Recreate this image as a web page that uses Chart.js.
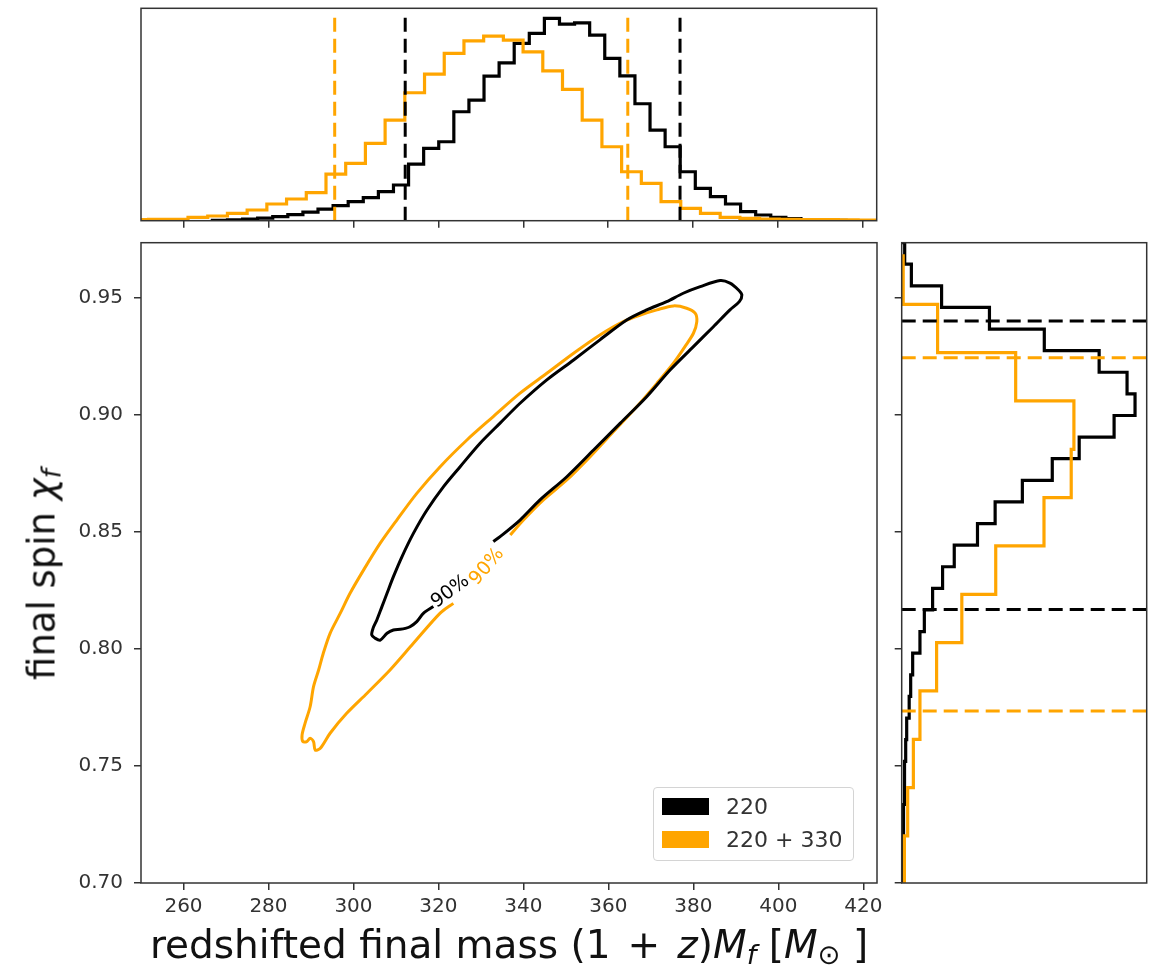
<!DOCTYPE html>
<html><head><meta charset="utf-8">
<script src="https://cdn.jsdelivr.net/npm/chart.js@4.4.1/dist/chart.umd.min.js"></script>
<style>
html,body{margin:0;padding:0;background:#fff;}
#wrap{position:relative;width:1165px;height:971px;overflow:hidden;background:#fff;font-family:'DejaVu Sans',sans-serif;}
.pane{position:absolute;}
#xlabel{position:absolute;left:141px;width:736px;top:925px;text-align:center;font-size:39px;line-height:39px;color:#111;white-space:nowrap;}
#ylabel{position:absolute;left:-278px;width:640px;top:556px;text-align:center;font-size:37px;line-height:37px;color:#111;white-space:nowrap;transform:rotate(-90deg);transform-origin:50% 50%;}
sub{font-size:0.7em;vertical-align:-0.22em;line-height:0;}
.op{margin:0 0.12em;}
#legend{position:absolute;left:653px;top:787px;width:199px;height:72px;border:1px solid #d4d4d4;border-radius:4px;background:rgba(255,255,255,0.85);}
.lrow{position:absolute;left:8px;height:17px;}
.lsw{position:absolute;left:0;top:0;width:47px;height:17px;}
.ltx{position:absolute;left:64px;top:-4px;font-size:22px;line-height:25px;color:#333;white-space:nowrap;}
</style></head>
<body>
<div id="wrap">
  <div class="pane" style="left:100px;top:0;width:790px;height:236px"><canvas id="cTop"></canvas></div>
  <div class="pane" style="left:0;top:236px;width:884px;height:735px"><canvas id="cMain"></canvas></div>
  <div class="pane" style="left:884px;top:236px;width:281px;height:660px"><canvas id="cRight"></canvas></div>
  <div id="xlabel">redshifted final mass (1<span class="op"> + </span><i>z</i>)<i>M</i><sub><i>f</i></sub> [<i>M</i><sub>⊙</sub> ]</div>
  <div id="ylabel">final spin <i>χ</i><sub><i>f</i></sub></div>
  <div id="legend"></div>
</div>
<script>
// ---------------- DATA ----------------
const seriesNames = ['220', '220 + 330'];
const xTicks = [260, 280, 300, 320, 340, 360, 380, 400, 420];
const yTicks = [0.70, 0.75, 0.80, 0.85, 0.90, 0.95];
const massRange = [250, 423.2];
const spinRange = [0.70, 0.9736];

// 90% credible contours (open paths, gap where the label sits): mass, spin
const contourMass220 = [318.8,316.5,314.9,313.3,312.2,311.0,309.4,307.9,306.3,305.1,304.3,304.6,305.5,306.7,307.9,309.4,311.4,314.1,317.3,321.2,325.1,329.8,334.5,339.2,345.5,351.8,358.0,364.3,369.0,373.7,377.6,381.6,386.3,388.6,390.6,391.4,390.8,388.6,384.7,380.0,374.5,369.0,362.8,356.5,350.2,343.9,339.2,334.5,332.9];
const contourSpin220 = [0.8181,0.8153,0.8117,0.8095,0.8088,0.8084,0.8081,0.8067,0.8038,0.8046,0.8060,0.8088,0.8124,0.8181,0.8238,0.8309,0.8394,0.8494,0.8594,0.8694,0.8779,0.8879,0.8965,0.9050,0.9150,0.9235,0.9321,0.9406,0.9449,0.9484,0.9520,0.9548,0.9574,0.9563,0.9534,0.9513,0.9484,0.9449,0.9377,0.9292,0.9192,0.9078,0.8965,0.8850,0.8736,0.8637,0.8551,0.8480,0.8459];
const contourMass330 = [323.5,320.4,314.1,308.6,303.2,298.4,294.5,292.2,291.0,290.6,289.8,289.0,288.1,287.9,288.6,289.8,290.6,291.8,292.9,294.5,296.9,299.2,302.4,306.3,310.2,314.9,320.4,326.7,332.9,339.2,345.5,351.8,358.0,363.5,367.5,371.4,375.3,378.4,380.4,380.8,380.0,378.0,375.3,371.4,366.7,361.2,355.7,350.2,344.7,340.0,336.9];
const contourSpin330 = [0.8195,0.8153,0.8024,0.7910,0.7811,0.7725,0.7640,0.7576,0.7568,0.7604,0.7618,0.7604,0.7604,0.7632,0.7682,0.7753,0.7839,0.7910,0.7982,0.8067,0.8153,0.8238,0.8338,0.8452,0.8551,0.8665,0.8779,0.8893,0.8993,0.9093,0.9178,0.9264,0.9342,0.9399,0.9427,0.9449,0.9466,0.9456,0.9435,0.9399,0.9349,0.9292,0.9221,0.9135,0.9036,0.8929,0.8822,0.8722,0.8637,0.8551,0.8487];
const contourLabelText = ['90%', '90%'];
const contourLabelMass = [322.8, 331.4];
const contourLabelSpin = [0.8245, 0.8352];

// marginal histograms (bin start, bin width, heights)
const massBinStart220 = 266.8, massBinWidth220 = 3.553;
const massCounts220 = [0.3,0.8,1.5,2.5,4,6,8.5,11.5,15,19,23,29,35.7,56.7,72.4,79,109,120.7,144.7,158,177.4,187.4,202.4,196.7,198,185.7,162.4,145,117,90.7,74,49,32.4,24,16.7,9,5.7,3.4,2,1.2,0.6,0.3];
const massBinStart330 = 247.15, massBinWidth330 = 4.64;
const massCounts330 = [1.2,1.4,1.4,3.4,4.7,7.4,10.7,16.7,21.7,28,46.7,57.4,77.4,100.7,128,146.7,167.4,180,184.7,180.7,169,150,131.4,100.7,74,49,37.4,19,12.4,7.4,3.4,2.4,1.7,1.4,1.2,1.0,0.8,0.6];
const spinBinStart220 = 0.6966, spinBinWidth220 = 0.009235;
const spinCounts220 = [0.7,1,1.5,2,2.5,3,4,5,7.5,9,11,18.3,22.7,31,41,52.7,76,93.7,121,151,178,213,234,226,198,143,88,40,9.7,3];
const spinBinStart330 = 0.69944, spinBinWidth330 = 0.020654;
const spinCounts330 = [2.7,6,11.7,18.3,35,60.3,94.3,142.7,170,172.7,114.3,36,1.5];

// 90% credible bounds (dashed lines)
const massBounds220 = [312.2, 376.9];
const massBounds330 = [295.6, 364.6];
const spinBounds220 = [0.8169, 0.9401];
const spinBounds330 = [0.7735, 0.9244];

// ---------------- STYLE ----------------
const BLACK = '#000000', ORANGE = '#FFA500', AXC = '#333333';
const seriesColors = [BLACK, ORANGE];
Chart.defaults.font.family = "'DejaVu Sans', sans-serif";
Chart.defaults.color = AXC;
Chart.defaults.animation = false;

function steps(start, width, counts, horizontal) {
  const pts = [];
  const add = (a, b) => pts.push(horizontal ? {x: b, y: a} : {x: a, y: b});
  add(start, 0);
  counts.forEach((c, i) => { add(start + i * width, c); add(start + (i + 1) * width, c); });
  add(start + counts.length * width, 0);
  return pts;
}
function zipPts(xs, ys) { return xs.map((v, i) => ({x: v, y: ys[i]})); }
function segs(list) { // several 2-point segments separated by gaps
  const out = [];
  list.forEach((seg, i) => { if (i) out.push({x: NaN, y: NaN}); out.push(...seg); });
  return out;
}
const noPad = ax => { ax.paddingTop = 0; ax.paddingBottom = 0; ax.paddingLeft = 0; ax.paddingRight = 0; };

const frame = {
  id: 'frame',
  afterDraw(chart) {
    const {ctx, chartArea: a} = chart;
    ctx.save(); ctx.strokeStyle = AXC; ctx.lineWidth = 1.5;
    ctx.strokeRect(a.left, a.top, a.right - a.left, a.bottom - a.top);
    ctx.restore();
  }
};
const clabels = {
  id: 'clabels',
  afterDatasetsDraw(chart, args, opts) {
    const {ctx, scales} = chart;
    (opts.items || []).forEach(it => {
      ctx.save();
      ctx.translate(scales.x.getPixelForValue(it.x), scales.y.getPixelForValue(it.y));
      ctx.rotate(it.angle * Math.PI / 180);
      ctx.font = '19px "DejaVu Sans"';
      ctx.fillStyle = it.color; ctx.textAlign = 'center'; ctx.textBaseline = 'middle';
      ctx.fillText(it.text, 0, 0);
      ctx.restore();
    });
  }
};

const tickGrid = {display: true, drawOnChartArea: false, drawTicks: true, tickLength: 7, color: AXC, lineWidth: 1.5};
const lineDs = (data, color, width, dash) => ({data, showLine: true, borderColor: color, backgroundColor: color,
  borderWidth: width, pointRadius: 0, borderDash: dash || [], fill: false, tension: 0, spanGaps: false});
const DASH = [14, 7];

// ---------------- TOP: mass marginal ----------------
const topMax = Math.max(...massCounts220, ...massCounts330) * 1.05;
const dashTop = topMax * 0.976;
const vl = vals => segs(vals.map(v => [{x: v, y: 0}, {x: v, y: dashTop}]));
new Chart(document.getElementById('cTop'), {
  type: 'scatter',
  data: {datasets: [
    lineDs(vl(massBounds330), ORANGE, 3, DASH),
    lineDs(vl(massBounds220), BLACK, 3, DASH),
    lineDs(steps(massBinStart330, massBinWidth330, massCounts330, false), ORANGE, 3.2),
    lineDs(steps(massBinStart220, massBinWidth220, massCounts220, false), BLACK, 3.2)
  ]},
  options: {
    responsive: true, maintainAspectRatio: false,
    layout: {padding: {left: 41, right: 13.3, top: 8.3, bottom: 0}},
    plugins: {legend: {display: false}, tooltip: {enabled: false}},
    scales: {
      x: {type: 'linear', min: massRange[0], max: massRange[1],
          afterBuildTicks: ax => { ax.ticks = xTicks.map(v => ({value: v})); },
          afterFit: ax => { ax.height = 15.3; noPad(ax); },
          grid: tickGrid, border: {display: false}, ticks: {display: false}},
      y: {type: 'linear', min: 0, max: topMax, display: false}
    }
  },
  plugins: [frame]
});

// ---------------- MAIN: joint contours ----------------
new Chart(document.getElementById('cMain'), {
  type: 'scatter',
  data: {datasets: [
    Object.assign(lineDs(zipPts(contourMass220, contourSpin220), BLACK, 3), {label: seriesNames[0], tension: 0.3}),
    Object.assign(lineDs(zipPts(contourMass330, contourSpin330), ORANGE, 3), {label: seriesNames[1], tension: 0.3})
  ]},
  options: {
    responsive: true, maintainAspectRatio: false,
    layout: {padding: {left: 0, right: 7, top: 6.7, bottom: 0}},
    plugins: {
      legend: {display: false}, tooltip: {enabled: false},
      clabels: {items: contourLabelText.map((t, i) => ({text: t, x: contourLabelMass[i], y: contourLabelSpin[i],
        color: seriesColors[i], angle: i === 0 ? -37 : -50}))}
    },
    scales: {
      x: {type: 'linear', min: massRange[0], max: massRange[1],
          afterBuildTicks: ax => { ax.ticks = xTicks.map(v => ({value: v})); },
          afterFit: ax => { ax.height = 88; noPad(ax); },
          grid: tickGrid, border: {display: false},
          ticks: {font: {size: 20}, color: AXC, padding: 5, autoSkip: false, maxRotation: 0, callback: v => String(v)}},
      y: {type: 'linear', min: spinRange[0], max: spinRange[1],
          afterBuildTicks: ax => { ax.ticks = yTicks.map(v => ({value: v})); },
          afterFit: ax => { ax.width = 141; noPad(ax); },
          grid: tickGrid, border: {display: false},
          ticks: {font: {size: 20}, color: AXC, padding: 11, autoSkip: false, callback: v => Number(v).toFixed(2)}}
    }
  },
  plugins: [frame, clabels]
});

// ---------------- RIGHT: spin marginal ----------------
const rightMax = Math.max(...spinCounts220, ...spinCounts330) * 1.05;
const hl = vals => segs(vals.map(v => [{x: 0, y: v}, {x: rightMax, y: v}]));
new Chart(document.getElementById('cRight'), {
  type: 'scatter',
  data: {datasets: [
    lineDs(hl(spinBounds330), ORANGE, 3, DASH),
    lineDs(hl(spinBounds220), BLACK, 3, DASH),
    lineDs(steps(spinBinStart330, spinBinWidth330, spinCounts330, true), ORANGE, 3.2),
    lineDs(steps(spinBinStart220, spinBinWidth220, spinCounts220, true), BLACK, 3.2)
  ]},
  options: {
    responsive: true, maintainAspectRatio: false,
    layout: {padding: {left: 0, right: 18.3, top: 6.7, bottom: 13}},
    plugins: {legend: {display: false}, tooltip: {enabled: false}},
    scales: {
      x: {type: 'linear', min: 0, max: rightMax, display: false},
      y: {type: 'linear', min: spinRange[0], max: spinRange[1],
          afterBuildTicks: ax => { ax.ticks = yTicks.map(v => ({value: v})); },
          afterFit: ax => { ax.width = 17.7; noPad(ax); },
          grid: tickGrid, border: {display: false}, ticks: {display: false}}
    }
  },
  plugins: [frame]
});

// ---------------- LEGEND ----------------
const leg = document.getElementById('legend');
seriesNames.forEach((name, i) => {
  const row = document.createElement('div');
  row.className = 'lrow'; row.style.top = (10 + i * 33) + 'px';
  row.innerHTML = '<div class="lsw" style="background:' + seriesColors[i] + '"></div><div class="ltx"></div>';
  row.querySelector('.ltx').textContent = name;
  leg.appendChild(row);
});
</script>
</body></html>
